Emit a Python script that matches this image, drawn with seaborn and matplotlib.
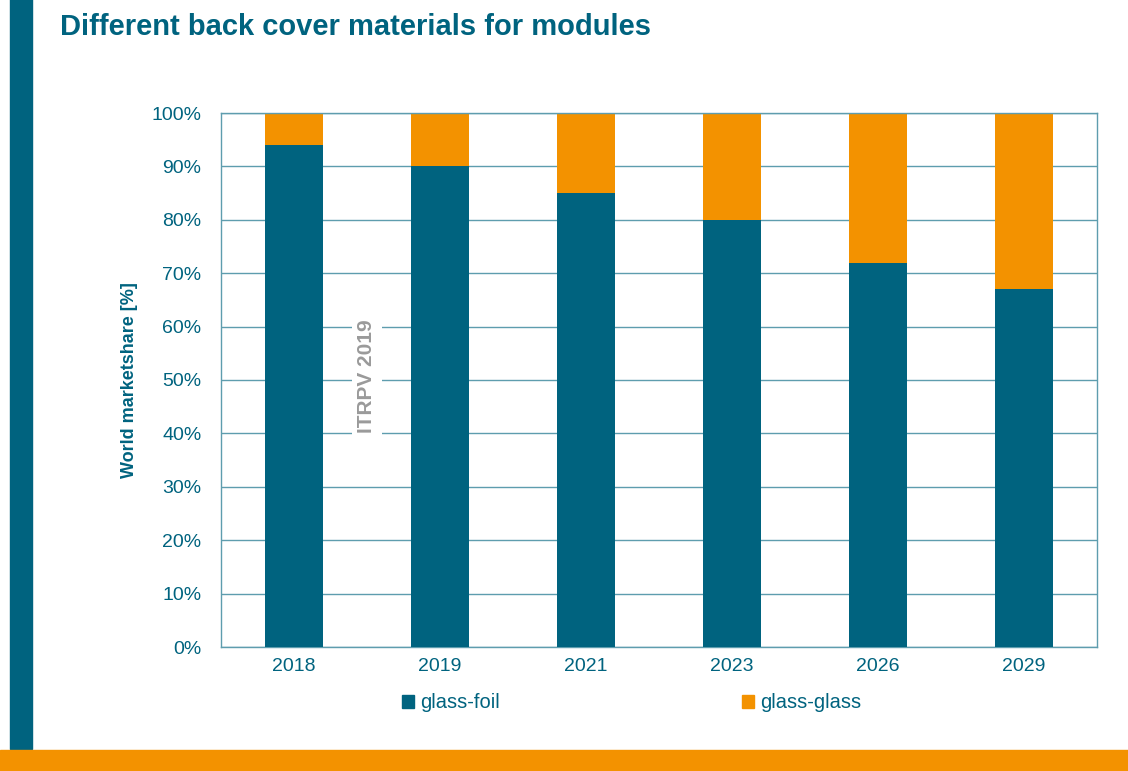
import matplotlib
matplotlib.use("Agg")
import matplotlib.pyplot as plt
import matplotlib.patches as mpatches
import seaborn as sns
import pandas as pd

years = ["2018", "2019", "2021", "2023", "2026", "2029"]
glass_foil = [94, 90, 85, 80, 72, 67]
glass_glass = [6, 10, 15, 20, 28, 33]
yticks = [0, 10, 20, 30, 40, 50, 60, 70, 80, 90, 100]

TEAL = "#00637F"
ORANGE = "#F39200"
GRID = "#5E9DAE"

sns.set_theme(style="white")
plt.rcParams["font.family"] = ["Liberation Sans", "DejaVu Sans"]

df = pd.DataFrame({"year": years, "foil": glass_foil, "glass": glass_glass})
df["total"] = df["foil"] + df["glass"]

fig = plt.figure(figsize=(11.28, 7.71), dpi=100)
ax = fig.add_axes([221 / 1128, 1 - 647 / 771, (1097 - 221) / 1128, (647 - 113) / 771])

ax.set_axisbelow(True)
ax.yaxis.grid(True, color=GRID, linewidth=1.0)
sns.barplot(data=df, x="year", y="total", color=ORANGE, width=0.4, saturation=1,
            ax=ax, zorder=2, linewidth=0)
sns.barplot(data=df, x="year", y="foil", color=TEAL, width=0.4, saturation=1,
            ax=ax, zorder=3, linewidth=0)

ax.set_ylim(0, 100)
ax.set_xlim(-0.5, 5.5)
ax.set_yticks(yticks)
ax.set_yticklabels([f"{v}%" for v in yticks])
for s in ax.spines.values():
    s.set_color(GRID)
    s.set_linewidth(1.0)
ax.tick_params(axis="both", length=0, labelsize=14, colors=TEAL)
ax.tick_params(axis="y", pad=14)
ax.tick_params(axis="x", pad=8)
ax.set_xlabel("")
ax.set_ylabel("World marketshare [%]", fontsize=13, fontweight="bold", color=TEAL, labelpad=10)

# watermark
ax.text(0.5, 50.7, "ITRPV 2019", rotation=90, ha="center", va="center", fontsize=15,
        fontweight="bold", color="#9A9A9A", zorder=4,
        bbox=dict(facecolor="white", edgecolor="none", pad=4))

# legend
handles = [mpatches.Patch(color=TEAL, label="glass-foil"),
           mpatches.Patch(color=ORANGE, label="glass-glass")]
leg = fig.legend(handles=handles, loc="center", bbox_to_anchor=(0.56, 1 - 703 / 771), ncol=2,
                 frameon=False, fontsize=14.5, handlelength=0.6, handleheight=0.6,
                 handletextpad=0.3, columnspacing=12)
for t in leg.get_texts():
    t.set_color(TEAL)

# decorations
fig.patches.append(mpatches.Rectangle((10 / 1128, 22 / 771), 22 / 1128, 1, transform=fig.transFigure,
                                      color=TEAL, zorder=0))
fig.patches.append(mpatches.Rectangle((0, 0), 1, 21 / 771, transform=fig.transFigure,
                                      color=ORANGE, zorder=0))
fig.text(60 / 1128, 1 - 27 / 771, "Different back cover materials for modules", fontsize=21,
         fontweight="bold", color=TEAL, ha="left", va="center")

fig.savefig("out.png", dpi=100, facecolor="white")
